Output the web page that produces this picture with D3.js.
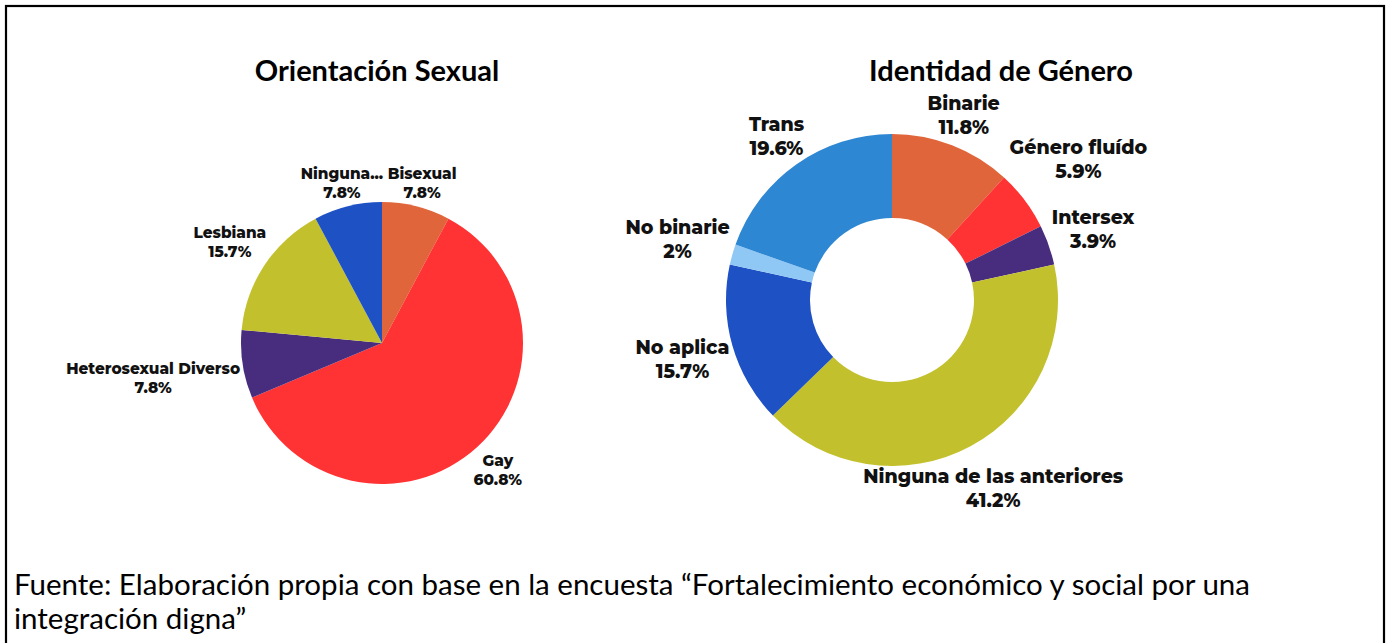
<!DOCTYPE html>
<html>
<head>
<meta charset="utf-8">
<script src="https://cdn.jsdelivr.net/npm/d3@7"></script>
<style>
  body { margin: 0; background: #fff; }
  svg { display: block; }
</style>
</head>
<body>
<div class="chartWrapper"></div>
<script>
const width = 1390, height = 643;

// Orientación Sexual (pie), clockwise from 12 o'clock
const orientLabels = ["Bisexual", "Gay", "Heterosexual Diverso", "Lesbiana", "Ninguna..."];
const orientValues = [7.8, 60.8, 7.8, 15.7, 7.8];
const orientColors = ["#e0653a", "#ff3333", "#482d7f", "#c3c02e", "#1e51c4"];

// Identidad de Género (donut), clockwise from 12 o'clock
const genderLabels = ["Binarie", "Género fluído", "Intersex", "Ninguna de las anteriores", "No aplica", "No binarie", "Trans"];
const genderValues = [11.8, 5.9, 3.9, 41.2, 15.7, 2, 19.6];
const genderColors = ["#e0653a", "#ff3333", "#482d7f", "#c3c02e", "#1e51c4", "#90c8f5", "#2e87d2"];

const footerLines = [
  "Fuente: Elaboración propia con base en la encuesta \u201cFortalecimiento económico y social por una",
  "integración digna\u201d"
];

const svg = d3.select(".chartWrapper").append("svg")
  .attr("width", width)
  .attr("height", height);

// frame round the figure (runs past the bottom of the picture)
svg.append("rect")
  .attr("x", 6).attr("y", 6)
  .attr("width", 1378).attr("height", 700)
  .attr("fill", "none")
  .attr("stroke", "#000")
  .attr("stroke-width", 2.2);

function fmtPct(v) {
  return d3.format("")(v) + "%";
}

// push the label box outward along its mid-angle until it clears the circle
function placeLabel(angle, w, h, clearRadius) {
  const ux = Math.sin(angle), uy = -Math.cos(angle);
  let lo = 0, hi = 600;
  for (let i = 0; i < 40; i++) {
    const t = (lo + hi) / 2;
    const cx = ux * t, cy = uy * t;
    const dx = Math.max(Math.abs(cx) - w / 2, 0);
    const dy = Math.max(Math.abs(cy) - h / 2, 0);
    if (Math.sqrt(dx * dx + dy * dy) < clearRadius) lo = t; else hi = t;
  }
  return [ux * hi, uy * hi];
}

function drawPie(opts) {
  const g = svg.append("g")
    .attr("transform", `translate(${opts.cx},${opts.cy})`);

  const pie = d3.pie().sort(null).value(d => d.value);
  const arc = d3.arc().innerRadius(opts.inner).outerRadius(opts.outer);

  const data = opts.labels.map((label, i) => ({label, value: opts.values[i], color: opts.colors[i]}));
  const arcs = pie(data);

  g.selectAll("path.slice")
    .data(arcs)
    .join("path")
    .attr("class", "slice")
    .attr("d", arc)
    .attr("fill", d => d.data.color);

  const labels = g.selectAll("g.label")
    .data(arcs)
    .join("g")
    .attr("class", "label");

  const text = labels.append("text")
    .attr("text-anchor", "middle")
    .style("font-family", "Montserrat, 'Open Sans', sans-serif")
    .style("font-weight", 800)
    .style("font-size", opts.fontSize + "px")
    .attr("fill", "#111");

  text.append("tspan")
    .attr("x", 0)
    .attr("y", -opts.lineGap / 2)
    .attr("dy", "0.35em")
    .text(d => d.data.label);
  text.append("tspan")
    .attr("x", 0)
    .attr("y", opts.lineGap / 2)
    .attr("dy", "0.35em")
    .text(d => fmtPct(d.data.value));

  labels.each(function(d) {
    const box = this.getBBox();
    const mid = (d.startAngle + d.endAngle) / 2;
    const pos = placeLabel(mid, box.width, opts.lineGap + opts.fontSize, opts.outer + opts.pad);
    d3.select(this).attr("transform", `translate(${pos[0]},${pos[1]})`);
  });

  svg.append("text")
    .attr("x", opts.titleX)
    .attr("y", 81)
    .attr("text-anchor", "middle")
    .style("font-family", "Lato, sans-serif")
    .style("font-weight", 700)
    .style("font-size", "29px")
    .attr("fill", "#000")
    .text(opts.title);
}

drawPie({
  title: "Orientación Sexual", titleX: 377,
  labels: orientLabels, values: orientValues, colors: orientColors,
  cx: 382, cy: 343, inner: 0, outer: 141, pad: 2,
  fontSize: 15.3, lineGap: 19
});

drawPie({
  title: "Identidad de Género", titleX: 1001,
  labels: genderLabels, values: genderValues, colors: genderColors,
  cx: 892, cy: 300, inner: 82, outer: 166, pad: 1,
  fontSize: 19, lineGap: 24
});

svg.append("g")
  .selectAll("text")
  .data(footerLines)
  .join("text")
  .attr("x", 14)
  .attr("y", (d, i) => 595 + i * 34)
  .style("font-family", "Lato, sans-serif")
  .style("font-size", "29.5px")
  .attr("fill", "#000")
  .text(d => d);
</script>
</body>
</html>
